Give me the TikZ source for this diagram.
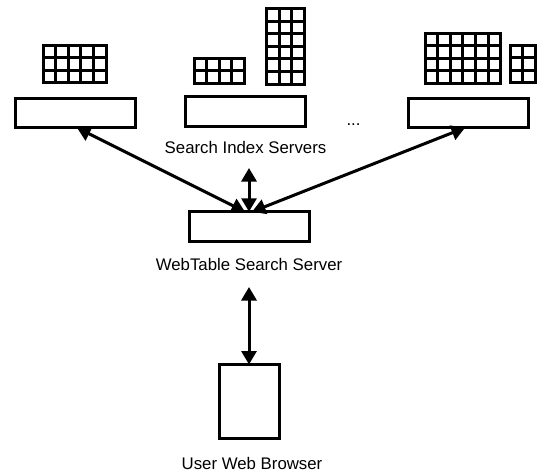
\documentclass[tikz,border=0pt]{standalone}
\usepackage{fontspec}
\setmainfont{Liberation Sans}
\usetikzlibrary{arrows.meta}
\tikzset{
    server/.style={draw, line width=3pt, inner sep=0pt, outer sep=0pt, minimum width=120pt, minimum height=29.5pt},
    browser/.style={draw, line width=3pt, inner sep=0pt, outer sep=0pt, minimum width=60pt, minimum height=74pt},
    cell/.style={draw, line width=3pt, inner sep=0pt, outer sep=0pt, minimum width=12.6pt, minimum height=12.6pt},
    label/.style={font=\fontsize{16.8pt}{20pt}\selectfont, inner sep=0pt},
    link/.style={line width=3pt, {Triangle[length=13.5pt,width=15pt]}-{Triangle[length=13.5pt,width=15pt]}}
}
% one block of table cells: name, left, top, columns, rows
\newcommand{\tableblock}[5]{
    \foreach \c in {1,...,#4} \foreach \r in {1,...,#5}
        \node[cell] (#1-\c-\r) at ({#2+(\c-0.5)*12.6}, {#3+(\r-0.5)*12.6}) {};
}
\begin{document}
\begin{tikzpicture}[x=1pt, y=-1pt]
    \useasboundingbox (0, 0) rectangle (540, 472);
    % index servers and their tables
    \node[server](index1) at (75, 113) {};
    \node[server](index2) at (245.5, 111.5) {};
    \node[server](index3) at (468, 113) {};
    \tableblock{t1}{43}{45}{5}{3}
    \tableblock{t2}{194}{58}{4}{2}
    \tableblock{t3}{266.5}{8.5}{3}{6}
    \tableblock{t4}{425}{33}{6}{4}
    \tableblock{t5}{510}{45}{2}{3}
    \node[label](indexlabel) at (245.5, 147.5) {Search Index Servers};
    \node[label](dots) at (353.5, 125) {...};
    % search server and browser
    \node[server](search) at (249, 226.5) {};
    \node[label](searchlabel) at (249, 264) {WebTable Search Server};
    \node[browser](web) at (249, 401.5) {};
    \node[label](weblabel) at (252, 463) {User Web Browser};
    % free ends of the arrows
    \coordinate(up1) at (249, 168);
    \coordinate(up2) at (249, 287);
    \draw[link] ([xshift=2pt]index1.south) -- ([xshift=-4pt]search.north);
    \draw[link] ([xshift=-3pt]index3.south) -- ([xshift=3pt]search.north);
    \draw[link] (up1) -- (search.north);
    \draw[link] (up2) -- (web.north);
\end{tikzpicture}
\end{document}
